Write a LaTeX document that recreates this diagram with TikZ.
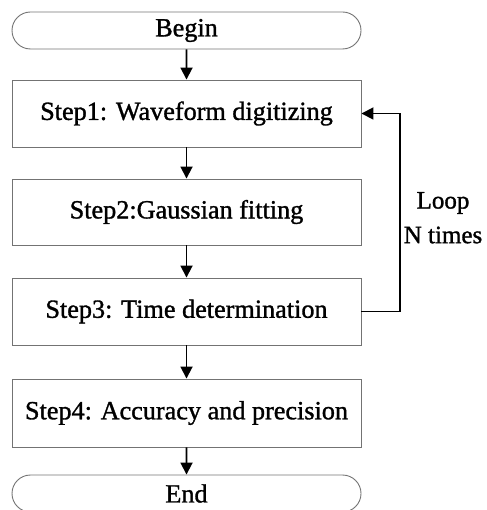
\documentclass[tikz,border=0pt]{standalone}
\usepackage{fontspec}
\setmainfont{Liberation Serif}
\newfontfamily\heavyserif[FakeBold=1.2]{Liberation Serif}
\usetikzlibrary{arrows.meta,shapes.misc}
\begin{document}
\begin{tikzpicture}[x=1pt,y=-1pt,
  box/.style={draw=black!55, line width=0.9pt, minimum width=349pt,
    minimum height=67pt, inner sep=0pt, font=\heavyserif\fontsize{26.2}{31}\selectfont},
  term/.style={box, rounded rectangle, minimum height=37pt},
  flow/.style={line width=1.8pt, -{Triangle[length=12pt,width=12pt]}},
  lbl/.style={font=\heavyserif\fontsize{25}{30}\selectfont, inner sep=0pt}]
\useasboundingbox (0,0) rectangle (486,510);

% process chain
\node[term] (begin) at (186.5,30.5) {Begin};
\node[box]  (s1) at (186.5,113.5) {Step1: Waveform digitizing};
\node[box, minimum height=66pt] (s2) at (186.5,212) {Step2:Gaussian fitting};
\node[box]  (s3) at (186.5,311.5) {Step3: Time determination};
\node[box, minimum height=68pt] (s4) at (186.5,413) {Step4: Accuracy and precision};
\node[term] (end) at (186.5,493.5) {End};

\draw[flow] (begin) -- (s1);
\draw[flow] (s1) -- (s2);
\draw[flow] (s2) -- (s3);
\draw[flow] (s3) -- (s4);
\draw[flow] (s4) -- (end);

% feedback loop from step 3 back to step 1
\coordinate (turn) at (400,311.5);
\draw[flow] (s3.east) -- (turn) |- (s1.east);
\node[lbl] (loop) at (443,203) {Loop};
\node[lbl] (ntimes) at (443,235) {N times};
\end{tikzpicture}
\end{document}
